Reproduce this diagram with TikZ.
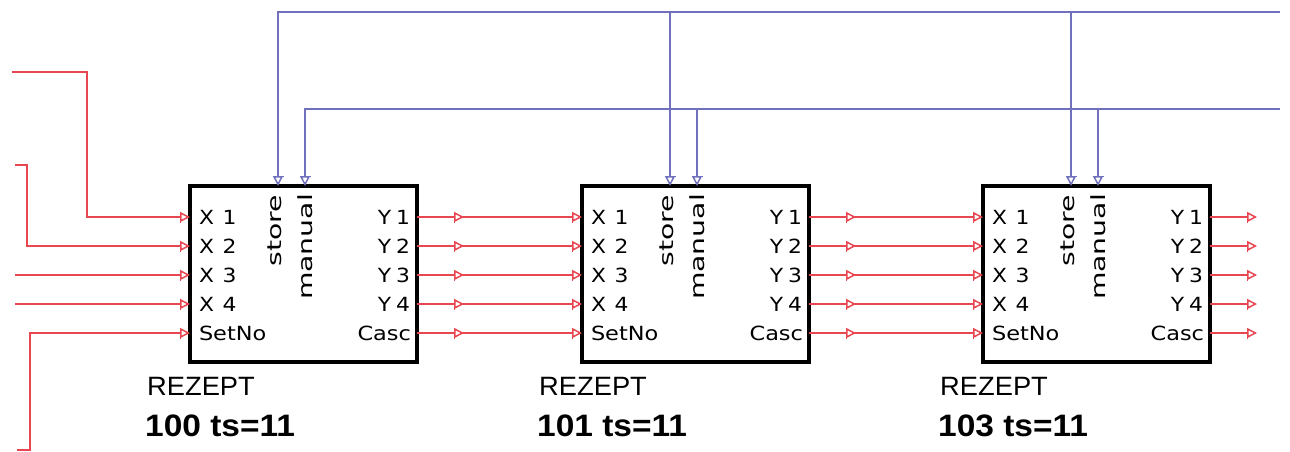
\documentclass[tikz,border=0pt]{standalone}
\usepackage{fontspec}
\setmainfont{DejaVu Sans}
\newfontfamily\labfont{Liberation Sans}
\usetikzlibrary{arrows.meta,calc,decorations.markings}
\definecolor{sig}{RGB}{232,70,80}
\definecolor{ctl}{RGB}{112,112,188}
\tikzset{
  blk/.style={draw=black,line width=3.5pt,minimum width=227pt,minimum height=176pt,inner sep=0pt,outer sep=0pt,anchor=north west},
  port/.style={font=\fontsize{19.5}{20}\selectfont,inner sep=0pt,outer sep=0pt},
  lbl/.style={font=\labfont\fontsize{26.5}{28}\selectfont,inner sep=0pt},
  lblb/.style={font=\labfont\bfseries\fontsize{31}{32}\selectfont,inner sep=0pt},
  mytip/.tip={Bar[width=11pt,line width=1.5pt,sep=-1pt]Triangle[length=10pt,width=10pt,line width=1.5pt,fill=white]},
  tipx/.style={-{mytip}},
  redline/.style={draw=sig,line width=1.8pt},
  blueline/.style={draw=ctl,line width=1.5pt},
  outmark/.style={postaction={decorate},decoration={markings,mark=at position 47pt with {\arrow[sig]{mytip}}}}
}
\begin{document}
\begin{tikzpicture}[x=1pt,y=-1pt]
\fill[white] (0,0) rectangle (1290,452);
\useasboundingbox (0,0) rectangle (1290,452);
\foreach \i/\L/\n in {1/190/100,2/582/101,3/983/103}{
  \node[blk] (b\i) at (\L,186) {};
  \pgfmathsetmacro\R{\L+227}
  \foreach \j/\dy in {1/31,2/60,3/89,4/118,5/147}{
    \coordinate (b\i x\j) at (\L,186+\dy);
    \coordinate (b\i y\j) at (\R,186+\dy);
  }
  \coordinate (b\i s) at (\L+88,186);
  \coordinate (b\i m) at (\L+115,186);
  \foreach \j/\dy in {1/31,2/60,3/89,4/118}{
    \node[port,anchor=west] (lx\i\j) at (\L+9,186+\dy) {\scalebox{1.12}[1]{X\hspace{0.4em}\j}};
    \node[port,anchor=east] (ly\i\j) at (\R-7,186+\dy) {\scalebox{1.12}[1]{Y\hspace{0.22em}\j}};
  }
  \node[port,anchor=west] (ls\i) at (\L+9,186+147) {\scalebox{1.15}[1]{SetNo}};
  \node[port,anchor=east] (lc\i) at (\R-6,186+147) {\scalebox{1.15}[1]{Casc}};
  \node[port,rotate=90,anchor=base east] (lst\i) at (\L+91,186+9) {\scalebox{1.45}[1]{store}};
  \node[port,rotate=90,anchor=base east] (lma\i) at (\L+122,186+8) {\scalebox{1.45}[1]{manual}};
  \node[lbl,anchor=base west] (r\i) at (\L-43,395) {\scalebox{1.03}[1]{REZEPT}};
  \node[lblb,anchor=base west] (t\i) at (\L-45,436) {\scalebox{1.08}[1]{\n\ ts=11}};
}
% left inputs
\coordinate (in1) at (12,72);  \coordinate (k1) at (87,72);
\coordinate (in2) at (15,165); \coordinate (k2) at (27,165);
\coordinate (in3) at (15,275);
\coordinate (in4) at (15,304);
\coordinate (in5) at (17,450); \coordinate (k5) at (30,450);
\draw[redline,tipx] (in1) -- (k1) |- (b1x1);
\draw[redline,tipx] (in2) -- (k2) |- (b1x2);
\draw[redline,tipx] (in3) -- (b1x3);
\draw[redline,tipx] (in4) -- (b1x4);
\draw[redline,tipx] (in5) -- (k5) |- (b1x5);
% between boxes
\foreach \j in {1,...,5}{
  \draw[redline,outmark,tipx] (b1y\j) -- (b2x\j);
  \draw[redline,outmark,tipx] (b2y\j) -- (b3x\j);
  \coordinate (o\j) at ($(b3y\j)+(47,0)$);
  \draw[redline,tipx] (b3y\j) -- (o\j);
}
% control lines
\coordinate (bt) at (1280,12);
\coordinate (bm) at (1280,109);
\draw[blueline,tipx] (bt) -| (b1s);
\draw[blueline,tipx] (bm) -| (b1m);
\draw[blueline,tipx] (b2s |- bt) -- (b2s);
\draw[blueline,tipx] (b2m |- bm) -- (b2m);
\draw[blueline,tipx] (b3s |- bt) -- (b3s);
\draw[blueline,tipx] (b3m |- bm) -- (b3m);
\end{tikzpicture}
\end{document}
